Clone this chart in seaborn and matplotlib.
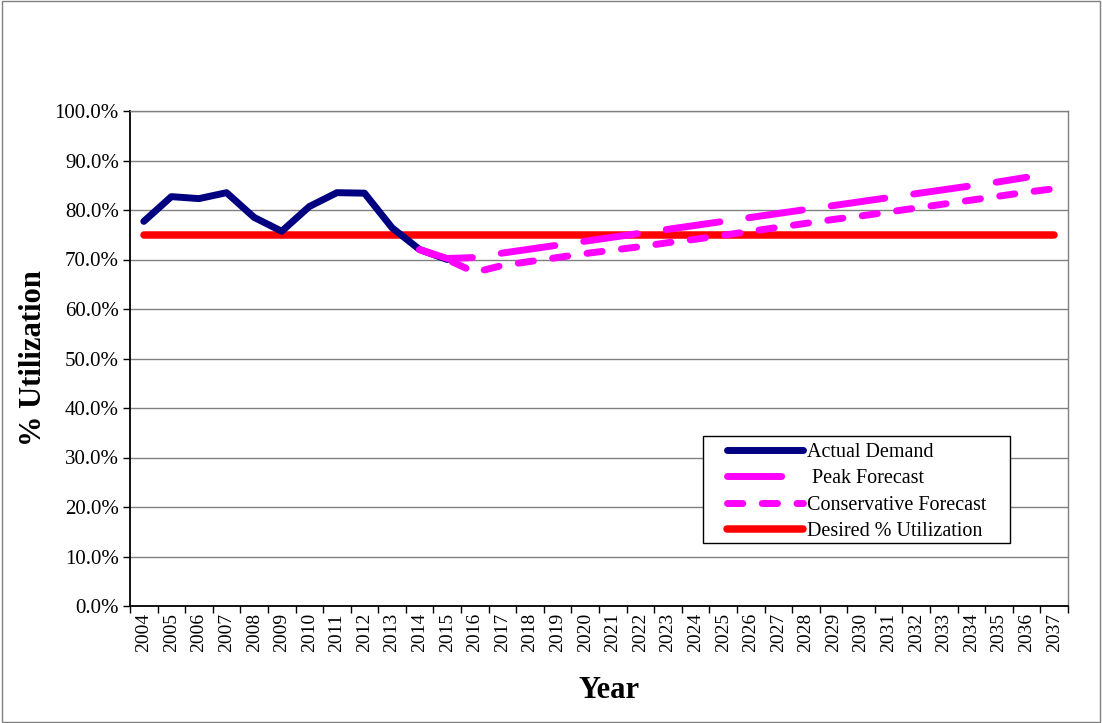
import numpy as np
import pandas as pd
import matplotlib
matplotlib.use("Agg")
import matplotlib.pyplot as plt
import seaborn as sns
from matplotlib.patches import Rectangle
from matplotlib.ticker import FixedLocator, FuncFormatter

years = list(range(2004, 2038))

actual_years = list(range(2004, 2016))
actual_demand = [77.7, 82.7, 82.3, 83.5, 78.5, 75.7, 80.7, 83.5, 83.4, 76.4, 72.0, 70.0]

peak_years = list(range(2014, 2037))
peak_forecast = [72.0, 70.2, 70.4, 71.3, 72.1, 72.9, 73.7, 74.5, 75.3, 76.1, 76.9,
                 77.7, 78.5, 79.3, 80.1, 80.9, 81.7, 82.5, 83.3, 84.1, 84.9, 85.7, 86.6]

cons_years = list(range(2014, 2038))
conservative_forecast = [72.0, 70.0, 67.4, 68.8, 69.6, 70.4, 71.2, 71.9, 72.6, 73.4, 74.1,
                         74.9, 75.7, 76.5, 77.3, 78.1, 78.8, 79.6, 80.4, 81.2, 82.0,
                         82.8, 83.6, 84.3]

desired_years = years
desired_util = [75.0] * len(years)

sns.set_theme(style="white")
plt.rcParams['font.family'] = ['Liberation Serif', 'DejaVu Serif']

W, H = 1102, 723
fig = plt.figure(figsize=(W / 100, H / 100), dpi=100)
ax = fig.add_axes([130 / W, 1 - 606 / H, 938 / W, 495 / H])

df_a = pd.DataFrame({"Year": actual_years, "Util": actual_demand})
df_p = pd.DataFrame({"Year": peak_years, "Util": peak_forecast})
df_c = pd.DataFrame({"Year": cons_years, "Util": conservative_forecast})
df_d = pd.DataFrame({"Year": desired_years, "Util": desired_util})

lw = 5.0
sns.lineplot(data=df_d, x="Year", y="Util", ax=ax, color="#FF0000", linewidth=5.4,
             solid_capstyle="round", label="Desired % Utilization", zorder=3)
sns.lineplot(data=df_a, x="Year", y="Util", ax=ax, color="#000080", linewidth=lw,
             solid_capstyle="round", solid_joinstyle="round", label="Actual Demand", zorder=4)
sns.lineplot(data=df_p, x="Year", y="Util", ax=ax, color="#FF00FF", linewidth=lw,
             linestyle=(0, (7.8, 4.2)), dash_capstyle="round", label="Peak Forecast", zorder=5)
sns.lineplot(data=df_c, x="Year", y="Util", ax=ax, color="#FF00FF", linewidth=lw,
             linestyle=(0, (2.2, 2.8)), dash_capstyle="round", label="Conservative Forecast", zorder=5)

ax.set_xlim(2003.5, 2037.5)
ax.set_ylim(0, 100)

ax.set_yticks(np.arange(0, 101, 10))
ax.yaxis.set_major_formatter(FuncFormatter(lambda v, p: f"{v:.1f}%"))
ax.set_xticks(years)
ax.set_xticklabels([str(y) for y in years], rotation=90)
ax.xaxis.set_minor_locator(FixedLocator([y + 0.5 for y in [2003] + years]))
ax.tick_params(axis="x", which="major", length=0, labelsize=14, pad=5, colors="black")
ax.tick_params(axis="x", which="minor", length=5, width=1, direction="out", bottom=True, color="black")
ax.tick_params(axis="y", which="major", length=5, width=1, direction="out", left=True,
               labelsize=15, colors="black", pad=3)

ax.grid(axis="y", color="#808080", linewidth=1.0)
ax.set_axisbelow(True)
for side in ["top", "right"]:
    ax.spines[side].set_color("#808080")
    ax.spines[side].set_linewidth(1.0)
for side in ["left", "bottom"]:
    ax.spines[side].set_color("black")
    ax.spines[side].set_linewidth(1.3)

ax.set_xlabel("Year", fontsize=22, fontweight="bold", color="black")
ax.set_ylabel("% Utilization", fontsize=22, fontweight="bold", color="black")
ax.xaxis.set_label_coords((609 - 130) / 938, (606 - 676) / 495)
ax.yaxis.set_label_coords((48 - 130) / 938, 0.5)

handles, labels = ax.get_legend_handles_labels()
order = ["Actual Demand", "Peak Forecast", "Conservative Forecast", "Desired % Utilization"]
hmap = dict(zip(labels, handles))
disp = {"Actual Demand": "Actual Demand", "Peak Forecast": " Peak Forecast",
        "Conservative Forecast": "Conservative Forecast",
        "Desired % Utilization": "Desired % Utilization"}

# Excel-style legend box: white rectangle inside the axes, entries placed on top of it
box = Rectangle((703 / W, 1 - 543 / H), (1010 - 703) / W, (543 - 436) / H,
                transform=fig.transFigure, facecolor="white", edgecolor="black",
                linewidth=1.0, zorder=6, clip_on=False)
ax.add_patch(box)
leg = ax.legend([hmap[k] for k in order], [disp[k] for k in order],
                loc="upper left",
                bbox_to_anchor=(727 / W, 1 - 443 / H), bbox_transform=fig.transFigure,
                fontsize=14.5, frameon=False,
                handlelength=3.75, handletextpad=0.2, borderpad=0.0, labelspacing=0.36,
                borderaxespad=0)
leg.set_zorder(7)
for t in leg.get_texts():
    t.set_color("black")

fig.patches.append(Rectangle((0.002, 0.002), 0.996, 0.996, transform=fig.transFigure,
                             fill=False, edgecolor="#808080", linewidth=1.0))

fig.savefig("out.png", dpi=100, facecolor="white")
